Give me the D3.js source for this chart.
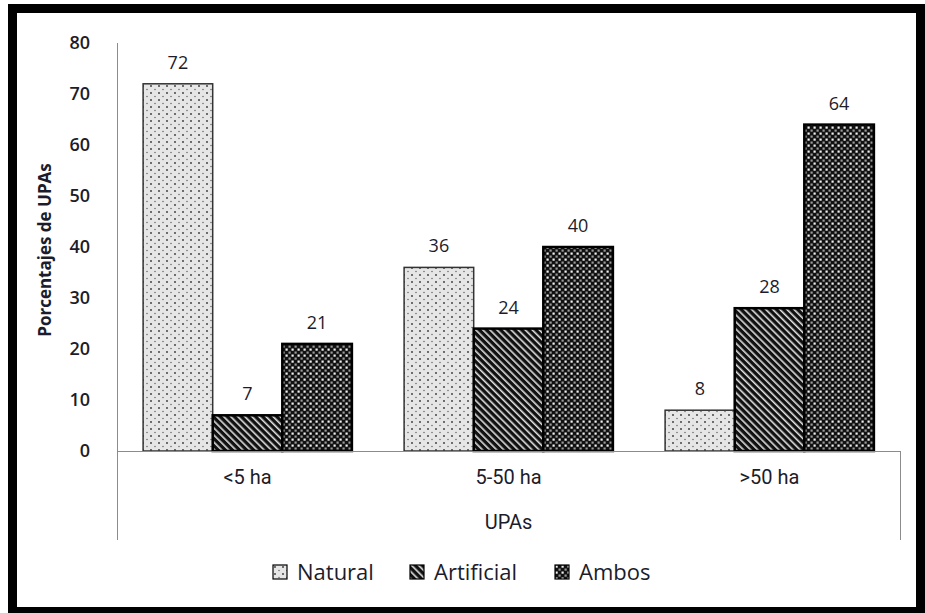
<!DOCTYPE html>
<html>
<head>
<meta charset="utf-8">
<script src="https://cdn.jsdelivr.net/npm/d3@7"></script>
<style>
  html, body { margin: 0; padding: 0; background: #fff; }
  svg { display: block; }
</style>
</head>
<body>
<svg id="chart" width="925" height="613"></svg>
<script>
const categories = ["<5 ha", "5-50 ha", ">50 ha"];
const seriesNames = ["Natural", "Artificial", "Ambos"];
const natural = [72, 36, 8];
const artificial = [7, 24, 28];
const ambos = [21, 40, 64];
const yTicks = [0, 10, 20, 30, 40, 50, 60, 70, 80];
const yTitle = "Porcentajes de UPAs";
const xTitle = "UPAs";

const seriesValues = [natural, artificial, ambos];
const data = categories.map((c, i) => ({
  cat: c,
  vals: seriesNames.map((s, j) => ({ key: s, value: seriesValues[j][i] }))
}));

const svg = d3.select("#chart");
const defs = svg.append("defs");

// Natural: light gray with dots
const pN = defs.append("pattern").attr("id", "pat-Natural").attr("patternUnits", "userSpaceOnUse")
  .attr("width", 8).attr("height", 7);
pN.append("rect").attr("width", 8).attr("height", 7).attr("fill", "#e6e6e6");
pN.append("circle").attr("cx", 2).attr("cy", 2).attr("r", 0.9).attr("fill", "#333");
pN.append("circle").attr("cx", 6).attr("cy", 5.5).attr("r", 0.7).attr("fill", "#555");

// Artificial: dark with light diagonal stripes
const pA = defs.append("pattern").attr("id", "pat-Artificial").attr("patternUnits", "userSpaceOnUse")
  .attr("width", 5).attr("height", 5).attr("patternTransform", "rotate(-45)");
pA.append("rect").attr("width", 5).attr("height", 5).attr("fill", "#111");
pA.append("rect").attr("x", 0).attr("width", 1.6).attr("height", 5).attr("fill", "#e0e0e0");

// Ambos: black with checker of light squares
const pB = defs.append("pattern").attr("id", "pat-Ambos").attr("patternUnits", "userSpaceOnUse")
  .attr("width", 6).attr("height", 6);
pB.append("rect").attr("width", 6).attr("height", 6).attr("fill", "#111");
pB.append("rect").attr("x", 0.5).attr("y", 0.5).attr("width", 2.2).attr("height", 2.2).attr("fill", "#f2f2f2");
pB.append("rect").attr("x", 3.5).attr("y", 3.5).attr("width", 2.2).attr("height", 2.2).attr("fill", "#9a9a9a");

// Frame
svg.append("rect").attr("x", 12.5).attr("y", 8.5).attr("width", 908).attr("height", 603)
  .attr("fill", "none").attr("stroke", "#000").attr("stroke-width", 9);

const pLeft = 117, pRight = 900, pTop = 43, pBottom = 451;
const y = d3.scaleLinear().domain([0, 80]).range([pBottom, pTop]);
const x0 = d3.scaleBand().domain(categories).range([pLeft, pRight]).padding(0);
const x1 = d3.scaleBand().domain(seriesNames).range([0, x0.bandwidth()]).paddingInner(0).paddingOuter(0.375);

const txt = "#1c1c2a";

// y axis
const yAxis = d3.axisLeft(y).tickValues(yTicks).tickSize(0).tickPadding(27);
const gy = svg.append("g").attr("transform", `translate(${pLeft},0)`).call(yAxis);
gy.select(".domain").remove();
gy.selectAll("text").attr("font-family", "'Open Sans', sans-serif").attr("font-size", 18)
  .attr("font-weight", 600).attr("fill", txt);
svg.append("line").attr("x1", pLeft + 0.5).attr("x2", pLeft + 0.5).attr("y1", pTop).attr("y2", 540)
  .attr("stroke", "#8c8c8c").attr("stroke-width", 1);
svg.append("line").attr("x1", pRight + 0.5).attr("x2", pRight + 0.5).attr("y1", pBottom).attr("y2", 540)
  .attr("stroke", "#8c8c8c").attr("stroke-width", 1);

// bars
const groups = svg.append("g").selectAll("g").data(data).join("g")
  .attr("transform", d => `translate(${x0(d.cat)},0)`);
groups.selectAll("rect").data(d => d.vals).join("rect")
  .attr("x", d => x1(d.key))
  .attr("y", d => y(d.value))
  .attr("width", x1.bandwidth())
  .attr("height", d => y(0) - y(d.value))
  .attr("fill", d => `url(#pat-${d.key})`)
  .attr("stroke", d => d.key === "Natural" ? "#333" : "#000")
  .attr("stroke-width", d => d.key === "Natural" ? 1.5 : 2.5);
groups.selectAll("text").data(d => d.vals).join("text")
  .attr("x", d => x1(d.key) + x1.bandwidth() / 2)
  .attr("y", d => y(d.value) - 15)
  .attr("text-anchor", "middle")
  .attr("font-family", "'Open Sans', sans-serif").attr("font-size", 18)
  .attr("font-weight", 500)
  .attr("fill", txt)
  .text(d => d.value);

// x axis
const xAxis = d3.axisBottom(x0).tickSize(0).tickPadding(19);
const gx = svg.append("g").attr("transform", `translate(0,${pBottom})`).call(xAxis);
gx.select(".domain").attr("stroke", "#8c8c8c");
gx.selectAll("text").attr("font-family", "'Liberation Sans Narrow', 'Roboto', sans-serif")
  .attr("font-size", 20).attr("fill", txt);

svg.append("text").attr("x", (pLeft + pRight) / 2).attr("y", 529).attr("text-anchor", "middle")
  .attr("font-family", "'Liberation Sans Narrow', 'Roboto', sans-serif").attr("font-size", 20)
  .attr("fill", txt).text(xTitle);

svg.append("text").attr("transform", `translate(51,250) rotate(-90)`)
  .attr("text-anchor", "middle").attr("font-family", "'Open Sans', sans-serif")
  .attr("font-size", 17).attr("font-weight", 700).attr("fill", txt).text(yTitle);

// legend
const legendX = [273, 410, 555];
const lg = svg.append("g").selectAll("g").data(seriesNames).join("g")
  .attr("transform", (d, i) => `translate(${legendX[i]},565)`);
lg.append("rect").attr("width", 14).attr("height", 14)
  .attr("fill", d => `url(#pat-${d})`).attr("stroke", "#000").attr("stroke-width", 1.2);
lg.append("text").attr("x", 24).attr("y", 15).attr("font-family", "'Open Sans', sans-serif")
  .attr("font-size", 22).attr("fill", txt).text(d => d);
</script>
</body>
</html>
